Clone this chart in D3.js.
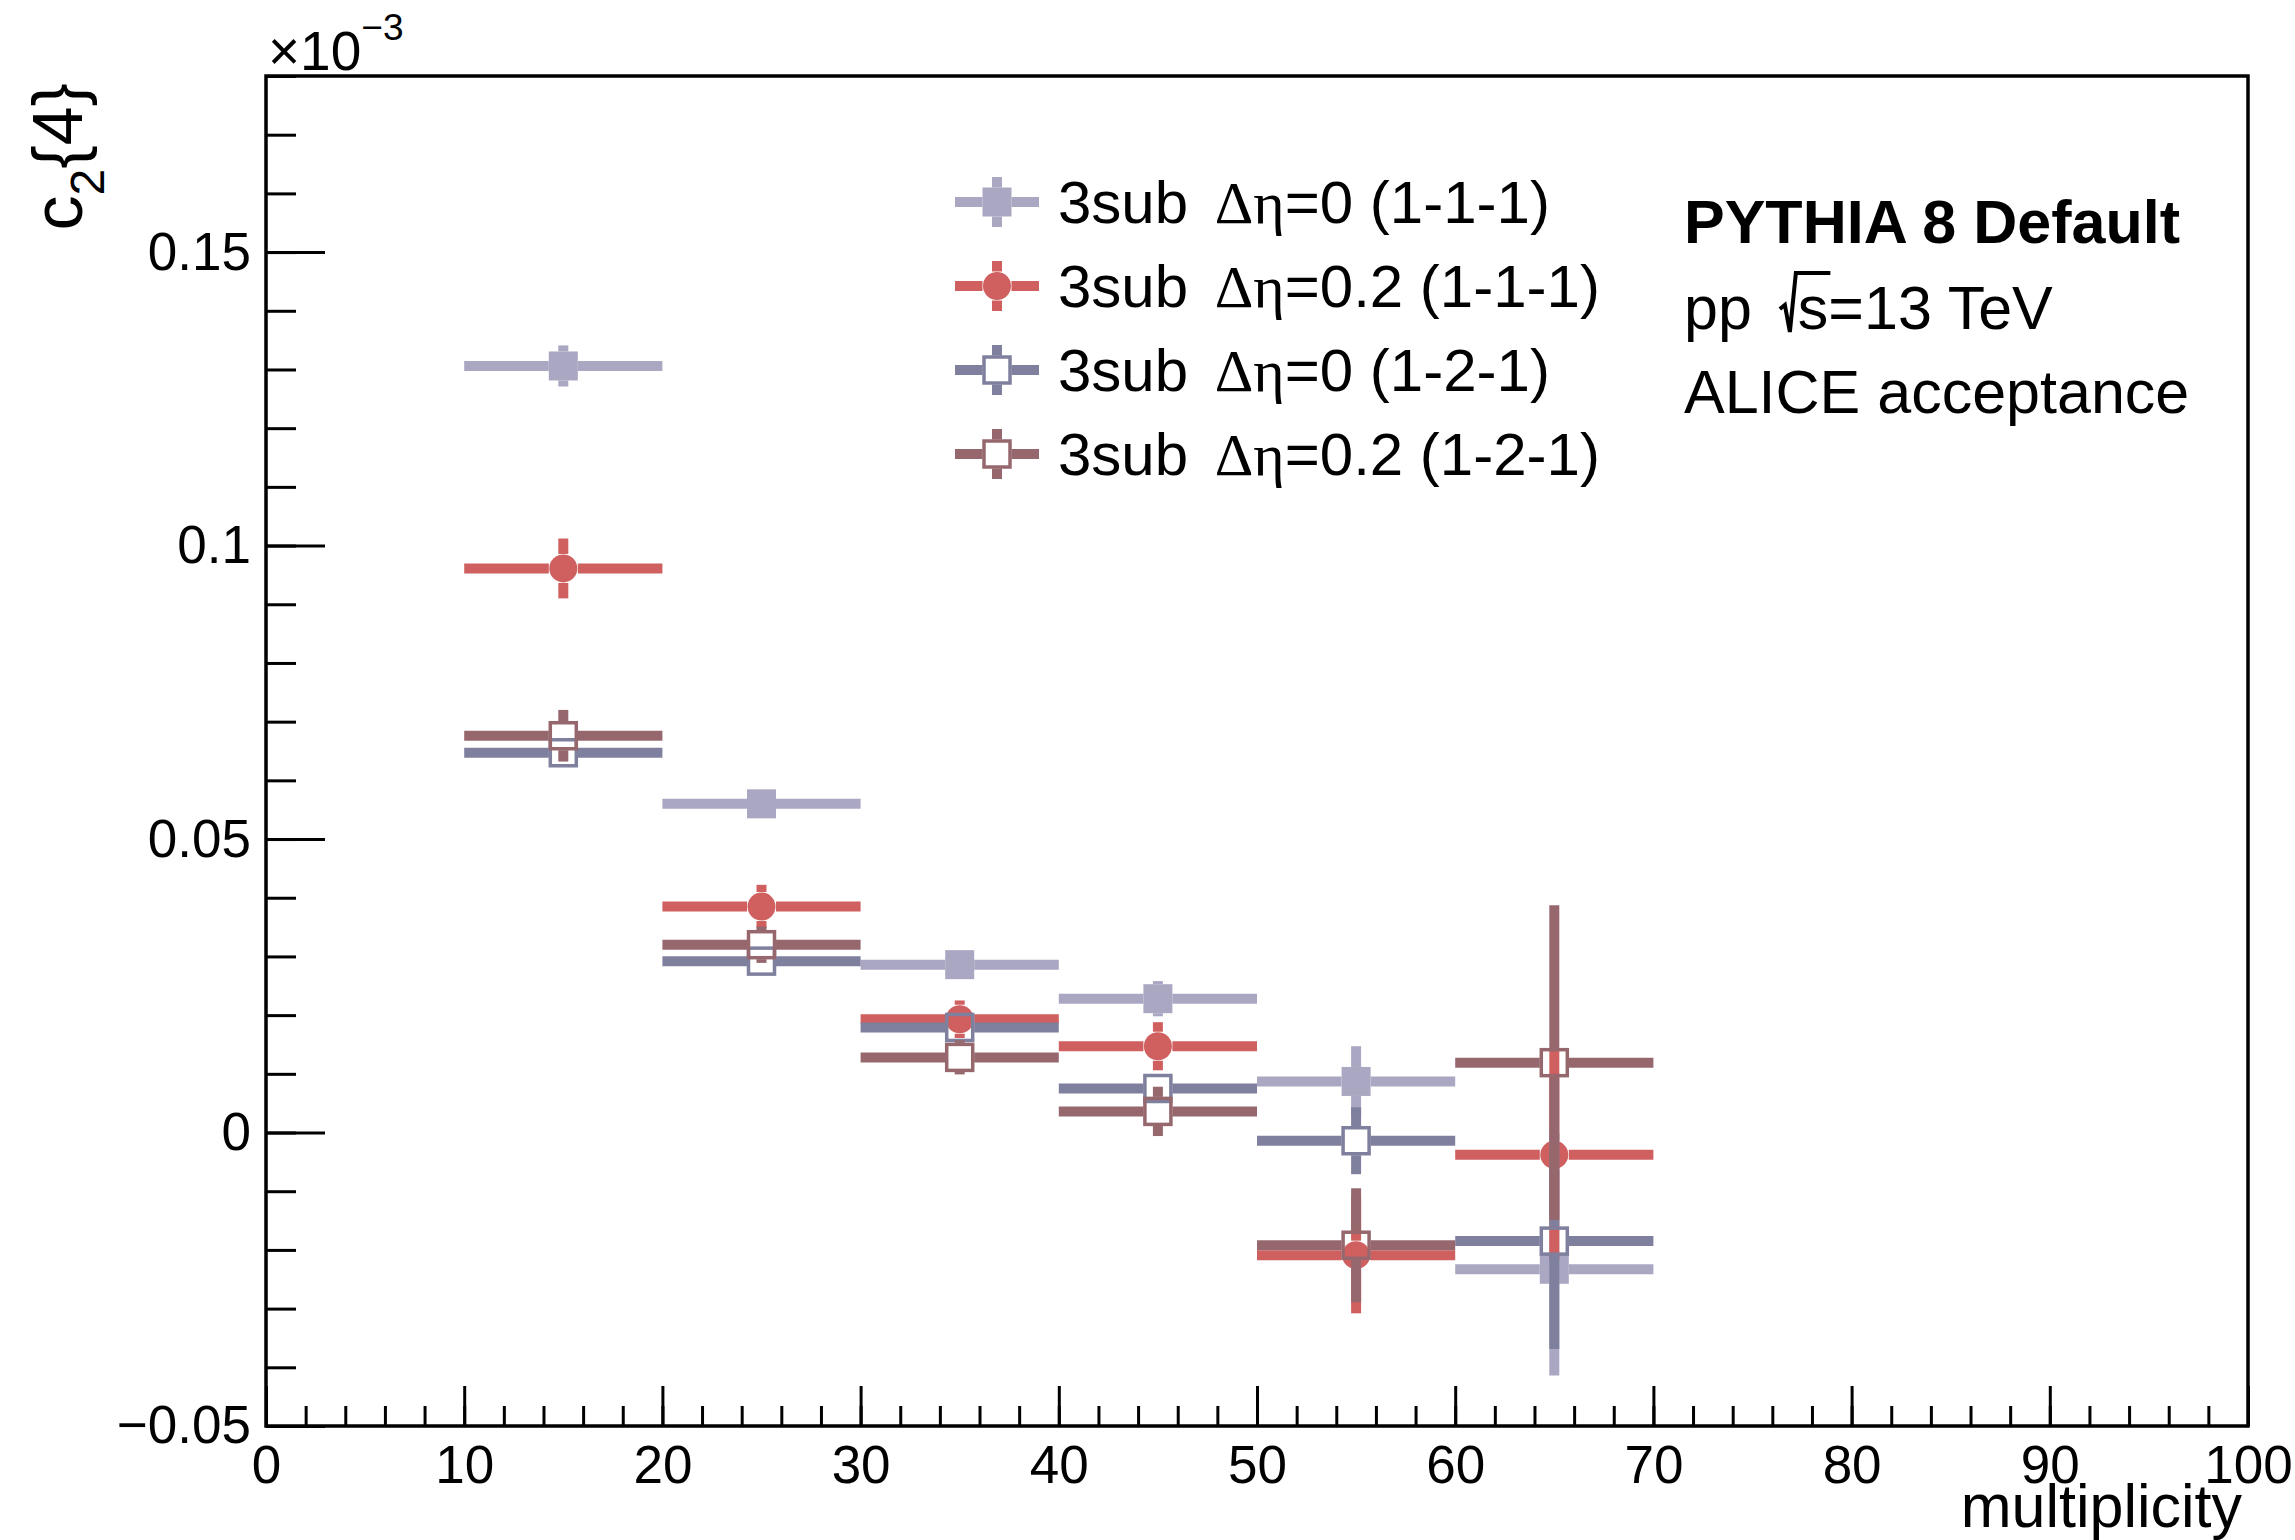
<!DOCTYPE html>
<html>
<head>
<meta charset="utf-8">
<script src="https://cdn.jsdelivr.net/npm/d3@7"></script>
<style>
  body { margin: 0; background: #fff; }
  svg { display: block; background: #fff; }
  text { font-family: "Liberation Sans", Arial, Helvetica, sans-serif; fill: #000; }
</style>
</head>
<body>
<svg id="chart" width="2295" height="1540"></svg>
<script>
    // multiplicity bins
    var binLow    = [10, 20, 30, 40, 50, 60];
    var binHigh   = [20, 30, 40, 50, 60, 70];
    var binCenter = [15, 25, 35, 45, 55, 65];

    // c2{4} values, shown in units of 1e-3
    var deta0_111     = [0.1306, 0.0560, 0.0286, 0.0228, 0.0087, -0.0233];
    var deta0_111Err  = [0.0035, 0.0018, 0.0020, 0.0030, 0.0060, 0.0181];
    var deta02_111    = [0.0961, 0.0385, 0.0193, 0.0147, -0.0209, -0.0038];
    var deta02_111Err = [0.0051, 0.0037, 0.0032, 0.0041, 0.0099, 0.0180];
    var deta0_121     = [0.0647, 0.0292, 0.0179, 0.0075, -0.0014, -0.0185];
    var deta0_121Err  = [0.0020, 0.0020, 0.0020, 0.0022, 0.0057, 0.0184];
    var deta02_121    = [0.0676, 0.0320, 0.0128, 0.0036, -0.0192, 0.0119];
    var deta02_121Err = [0.0044, 0.0031, 0.0029, 0.0042, 0.0097, 0.0268];

    var legendLabels = [
      "3sub Δη=0 (1-1-1)",
      "3sub Δη=0.2 (1-1-1)",
      "3sub Δη=0 (1-2-1)",
      "3sub Δη=0.2 (1-2-1)"
    ];
    var infoLines = ["PYTHIA 8 Default", "pp", "ALICE acceptance"];

    var xTickValues = [0, 10, 20, 30, 40, 50, 60, 70, 80, 90, 100];
    var yTickValues = [-0.05, 0, 0.05, 0.1, 0.15];
    var xDomain = [0, 100];
    var yDomain = [-0.05, 0.18];

    var series = [
      {name: legendLabels[0], values: deta0_111,  errors: deta0_111Err,  color: "#aaa7c2", marker: "square"},
      {name: legendLabels[1], values: deta02_111, errors: deta02_111Err, color: "#d05f5f", marker: "circle"},
      {name: legendLabels[2], values: deta0_121,  errors: deta0_121Err,  color: "#7f7f9e", marker: "open"},
      {name: legendLabels[3], values: deta02_121, errors: deta02_121Err, color: "#96686e", marker: "open"}
    ];

    var margin = {top: 76, right: 47, bottom: 114, left: 266};
    var svg = d3.select("#chart"),
      width = +svg.attr("width"),
      height = +svg.attr("height");

    var x = d3.scaleLinear().domain(xDomain).range([margin.left, width - margin.right]);
    var y = d3.scaleLinear().domain(yDomain).range([height - margin.bottom, margin.top]);

    var barWidth = 10;
    var markerHalf = 14.5;
    var fontSans = '"Liberation Sans", Arial, Helvetica, sans-serif';

    function addMarker(g, type, color) {
      if (type === "square") {
        g.append("rect")
          .attr("x", -markerHalf).attr("y", -markerHalf)
          .attr("width", 2 * markerHalf).attr("height", 2 * markerHalf)
          .attr("fill", color);
      } else if (type === "circle") {
        g.append("circle").attr("r", markerHalf - 0.5).attr("fill", color);
      } else {
        g.append("rect")
          .attr("x", -markerHalf + 1.5).attr("y", -markerHalf + 1.5)
          .attr("width", 2 * markerHalf - 3).attr("height", 2 * markerHalf - 3)
          .attr("fill", "none")
          .attr("stroke", color)
          .attr("stroke-width", 3.5);
      }
    }

    // error bar pieces, left out inside the marker like ROOT does
    function errSegments(d) {
      var px = x(d.x), py = y(d.y), h = markerHalf;
      var segs = [[x(d.lo), py, px - h, py], [px + h, py, x(d.hi), py]];
      var top = y(d.y + d.e), bot = y(d.y - d.e);
      if (py - top > h) {
        segs.push([px, top, px, py - h]);
        segs.push([px, py + h, px, bot]);
      }
      return segs;
    }

    // ---- axes ----
    var xAxisG = svg.append("g").attr("transform", "translate(0," + y.range()[0] + ")");
    xAxisG.append("g")
      .call(d3.axisBottom(x).ticks(50).tickSize(-20).tickSizeOuter(0).tickFormat(""));
    xAxisG.append("g")
      .call(d3.axisBottom(x).tickValues(xTickValues).tickSize(-40).tickSizeOuter(0).tickPadding(19));

    var yAxisG = svg.append("g").attr("transform", "translate(" + x.range()[0] + ",0)");
    yAxisG.append("g")
      .call(d3.axisLeft(y).ticks(23).tickSize(-30).tickSizeOuter(0).tickFormat(""));
    yAxisG.append("g")
      .call(d3.axisLeft(y).tickValues(yTickValues).tickSize(-59).tickSizeOuter(0).tickPadding(15)
        .tickFormat(d3.format("~g")));

    svg.selectAll(".domain").remove();
    svg.selectAll(".tick line").attr("stroke", "#000").attr("stroke-width", 3);
    svg.selectAll(".tick text")
      .attr("font-family", fontSans)
      .attr("font-size", 53);

    // frame
    svg.append("rect")
      .attr("x", x.range()[0]).attr("y", y.range()[1])
      .attr("width", x.range()[1] - x.range()[0])
      .attr("height", y.range()[0] - y.range()[1])
      .attr("fill", "none")
      .attr("stroke", "#000")
      .attr("stroke-width", 3.5);

    // ---- data ----
    series.forEach(function(s) {
      var pts = binCenter.map(function(c, i) {
        return {x: c, lo: binLow[i], hi: binHigh[i], y: s.values[i], e: s.errors[i]};
      });
      var g = svg.append("g").attr("class", "series");

      g.selectAll("line")
        .data(pts.flatMap(errSegments))
        .enter().append("line")
        .attr("x1", function(d) { return d[0]; })
        .attr("y1", function(d) { return d[1]; })
        .attr("x2", function(d) { return d[2]; })
        .attr("y2", function(d) { return d[3]; })
        .attr("stroke", s.color)
        .attr("stroke-width", barWidth);

      g.selectAll("g.pt")
        .data(pts)
        .enter().append("g")
        .attr("class", "pt")
        .attr("transform", function(d) { return "translate(" + x(d.x) + "," + y(d.y) + ")"; })
        .each(function() { addMarker(d3.select(this), s.marker, s.color); });
    });

    // ---- axis titles ----
    var expo = svg.append("text")
      .attr("x", 268).attr("y", 70)
      .attr("font-size", 55)
      .text("×10");
    expo.append("tspan").attr("font-size", 37).attr("dy", -30).text("−3");

    var yTitle = svg.append("text")
      .attr("transform", "translate(82,83) rotate(-90)")
      .attr("text-anchor", "end")
      .attr("font-size", 70);
    yTitle.append("tspan").text("c");
    yTitle.append("tspan").attr("font-size", 48).attr("dy", 22).text("2");
    yTitle.append("tspan").attr("dy", -22).text("{4}");

    svg.append("text")
      .attr("x", 2242).attr("y", 1527)
      .attr("text-anchor", "end")
      .attr("font-size", 61)
      .text("multiplicity");

    // ---- legend ----
    var legendX = 997, legendY0 = 202, legendStep = 84;
    var legend = svg.append("g");
    series.forEach(function(s, i) {
      var row = legend.append("g")
        .attr("transform", "translate(" + legendX + "," + (legendY0 + i * legendStep) + ")");
      var h = markerHalf;
      [[-42, 0, -h, 0], [h, 0, 42, 0], [0, -25, 0, -h], [0, h, 0, 25]].forEach(function(p) {
        row.append("line")
          .attr("x1", p[0]).attr("y1", p[1]).attr("x2", p[2]).attr("y2", p[3])
          .attr("stroke", s.color).attr("stroke-width", barWidth);
      });
      addMarker(row, s.marker, s.color);

      var parts = s.name.split("Δη");
      var t = row.append("text")
        .attr("x", 61).attr("y", 0).attr("dy", "0.35em")
        .attr("font-size", 60);
      t.append("tspan").text(parts[0]);
      t.append("tspan").attr("dx", 10)
        .attr("font-family", '"Liberation Serif", "DejaVu Serif", serif').text("Δη");
      t.append("tspan").text(parts[1]);
    });

    // ---- info text ----
    var infoX = 1684;
    svg.append("text")
      .attr("x", infoX).attr("y", 243)
      .attr("font-size", 61).attr("font-weight", "bold")
      .text(infoLines[0]);

    var pp = svg.append("text")
      .attr("x", infoX).attr("y", 329)
      .attr("font-size", 61)
      .text(infoLines[1]);
    var rx = infoX + pp.node().getComputedTextLength() + 28;
    var sText = svg.append("text")
      .attr("x", rx + 18).attr("y", 329)
      .attr("font-size", 61)
      .text("s=13 TeV");
    var sEnd = rx + 18 + sText.node().getSubStringLength(0, 1) + 2;
    svg.append("path")
      .attr("d", "M" + rx + "," + (329 - 20) + "L" + (rx + 5) + "," + (329 - 24) +
        "L" + (rx + 10) + "," + (329 + 3) + "L" + (rx + 16) + "," + (329 - 56) +
        "L" + sEnd + "," + (329 - 56))
      .attr("fill", "none")
      .attr("stroke", "#000")
      .attr("stroke-width", 4);

    svg.append("text")
      .attr("x", infoX).attr("y", 413)
      .attr("font-size", 61)
      .text(infoLines[2]);
</script>
</body>
</html>
